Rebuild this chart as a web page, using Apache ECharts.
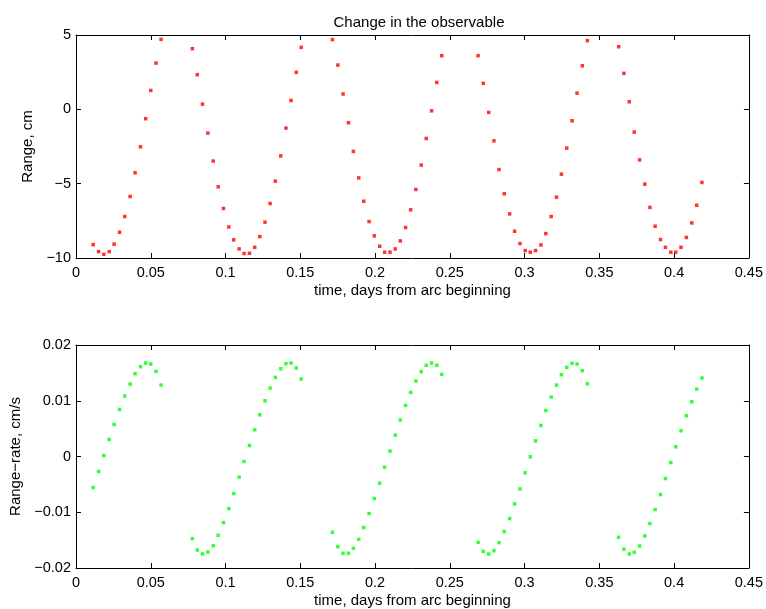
<!DOCTYPE html>
<html>
<head>
<meta charset="utf-8">
<script src="https://cdn.jsdelivr.net/npm/echarts@6/dist/echarts.min.js"></script>
<style>
  html, body { margin: 0; padding: 0; background: #fff; }
  #chart { width: 766px; height: 609px; }
</style>
</head>
<body>
<div id="chart"></div>
<script>
// time of each observation, days from arc beginning
var timeDays = [
  0.0115,0.0151,0.0186,0.0222,0.0255,0.0291,0.0326,0.0362,0.0395,0.0431,0.0466,0.0500,0.0535,0.0569,
  0.0778,0.0811,0.0846,0.0882,0.0918,0.0951,0.0986,0.1022,0.1055,0.1091,0.1124,0.1160,0.1195,0.1229,0.1264,0.1298,0.1333,0.1369,0.1404,0.1438,0.1473,0.1506,
  0.1715,0.1751,0.1786,0.1822,0.1855,0.1891,0.1924,0.1960,0.1995,0.2031,0.2064,0.2100,0.2135,0.2169,0.2204,0.2238,0.2273,0.2309,0.2342,0.2378,0.2413,0.2446,
  0.2689,0.2724,0.2760,0.2795,0.2829,0.2864,0.2900,0.2933,0.2969,0.3004,0.3038,0.3073,0.3109,0.3142,0.3178,0.3213,0.3246,0.3282,0.3318,0.3351,0.3386,0.3420,
  0.3629,0.3664,0.3700,0.3733,0.3769,0.3804,0.3838,0.3873,0.3909,0.3942,0.3978,0.4011,0.4046,0.4082,0.4118,0.4151,0.4186
];
// change in range, cm
var rangeCm = [
  -9.10,-9.57,-9.75,-9.57,-9.07,-8.27,-7.21,-5.86,-4.27,-2.52,-0.63,1.27,3.11,4.71,
  4.08,2.33,0.35,-1.60,-3.48,-5.21,-6.67,-7.91,-8.78,-9.39,-9.70,-9.68,-9.28,-8.56,-7.59,-6.34,-4.83,-3.13,-1.26,0.60,2.49,4.17,
  4.69,2.98,1.03,-0.90,-2.83,-4.61,-6.18,-7.55,-8.51,-9.21,-9.61,-9.61,-9.39,-8.85,-7.95,-6.76,-5.39,-3.75,-1.96,-0.10,1.81,3.61,
  3.61,1.75,-0.21,-2.12,-4.05,-5.68,-7.03,-8.20,-9.03,-9.50,-9.61,-9.50,-9.12,-8.36,-7.21,-5.91,-4.36,-2.61,-0.77,1.09,2.93,4.62,
  4.21,2.42,0.51,-1.53,-3.40,-5.03,-6.60,-7.86,-8.76,-9.28,-9.61,-9.61,-9.28,-8.62,-7.64,-6.45,-4.92
];
// change in range-rate, cm/s
var rangeRateCmS = [
  -0.00557,-0.00269,0.00018,0.00305,0.00575,0.00844,0.01084,0.01299,0.01485,0.01611,0.01677,0.01659,0.01527,0.01281,
  -0.01473,-0.01677,-0.01748,-0.01713,-0.01599,-0.01413,-0.01186,-0.00934,-0.00665,-0.00371,-0.00090,0.00198,0.00479,0.00748,0.01000,0.01227,0.01419,0.01575,0.01665,0.01677,0.01587,0.01389,
  -0.01359,-0.01617,-0.01736,-0.01736,-0.01647,-0.01485,-0.01275,-0.01024,-0.00754,-0.00479,-0.00192,0.00096,0.00383,0.00653,0.00916,0.01150,0.01353,0.01521,0.01635,0.01677,0.01635,0.01473,
  -0.01539,-0.01701,-0.01748,-0.01689,-0.01545,-0.01347,-0.01114,-0.00850,-0.00581,-0.00293,-0.00006,0.00281,0.00557,0.00826,0.01066,0.01281,0.01467,0.01599,0.01671,0.01659,0.01539,0.01305,
  -0.01449,-0.01665,-0.01748,-0.01719,-0.01605,-0.01425,-0.01204,-0.00952,-0.00683,-0.00395,-0.00108,0.00174,0.00461,0.00731,0.00982,0.01209,0.01407
];
var xTicks = { min: 0, max: 0.45, interval: 0.05 };
var rangeTicks = { min: -10, max: 5, interval: 5 };
var rateTicks = { min: -0.02, max: 0.02, interval: 0.01 };
var titleText = 'Change in the observable';
var xName = 'time, days from arc beginning';
var yNames = ['Range, cm', 'Range\u2212rate, cm/s'];

var FONT = '"Liberation Sans", Arial, Helvetica, sans-serif';
var INK = '#000';

function minusFmt(v) {
  var s = String(+v.toFixed(6));
  return s.replace('-', '\u2212');
}
function xAx(grid, pos, showLabel) {
  return {
    type: 'value', gridIndex: grid, position: pos,
    min: xTicks.min, max: xTicks.max, interval: xTicks.interval,
    axisLine: { show: true, onZero: false, lineStyle: { color: INK, width: 1 } },
    axisTick: { show: true, inside: true, length: 5, lineStyle: { color: INK } },
    splitLine: { show: false },
    axisLabel: { show: showLabel, color: INK, fontSize: 14.5, fontFamily: FONT, margin: 7, formatter: minusFmt },
    name: showLabel ? xName : '', nameLocation: 'middle', nameGap: 25,
    nameTextStyle: { color: INK, fontSize: 15, fontFamily: FONT }
  };
}
function yAx(grid, pos, ticks, showLabel, name, gap) {
  return {
    type: 'value', gridIndex: grid, position: pos,
    min: ticks.min, max: ticks.max, interval: ticks.interval,
    axisLine: { show: true, onZero: false, lineStyle: { color: INK, width: 1 } },
    axisTick: { show: true, inside: true, length: 5, lineStyle: { color: INK } },
    splitLine: { show: false },
    axisLabel: { show: showLabel, color: INK, fontSize: 14.5, fontFamily: FONT, margin: 5, formatter: minusFmt },
    name: showLabel ? name : '', nameLocation: 'middle', nameGap: gap,
    nameTextStyle: { color: INK, fontSize: 15, fontFamily: FONT }
  };
}

var topData = timeDays.map(function (t, i) { return [t, rangeCm[i]]; });
var botData = timeDays.map(function (t, i) { return [t, rangeRateCmS[i]]; });

var chart = echarts.init(document.getElementById('chart'), null, { renderer: 'canvas' });
chart.setOption({
  backgroundColor: '#fff',
  animation: false,
  title: {
    text: titleText, left: 414, top: 10, textAlign: 'center',
    textStyle: { color: INK, fontSize: 15, fontWeight: 'normal', fontFamily: FONT }
  },
  grid: [
    { left: 76, right: 14, top: 35, height: 223 },
    { left: 76, right: 14, top: 345, height: 223 }
  ],
  xAxis: [xAx(0, 'bottom', true), xAx(0, 'top', false), xAx(1, 'bottom', true), xAx(1, 'top', false)],
  yAxis: [
    yAx(0, 'left', rangeTicks, true, yNames[0], 37),
    yAx(0, 'right', rangeTicks, false, '', 0),
    yAx(1, 'left', rateTicks, true, yNames[1], 51),
    yAx(1, 'right', rateTicks, false, '', 0)
  ],
  series: [
    { type: 'scatter', xAxisIndex: 0, yAxisIndex: 0, data: topData, symbol: 'rect', symbolSize: 3.5,
      itemStyle: { color: '#ff0000' } },
    { type: 'scatter', xAxisIndex: 2, yAxisIndex: 2, data: botData, symbol: 'rect', symbolSize: 3.5,
      itemStyle: { color: '#00ff00' } }
  ]
});
</script>
</body>
</html>
